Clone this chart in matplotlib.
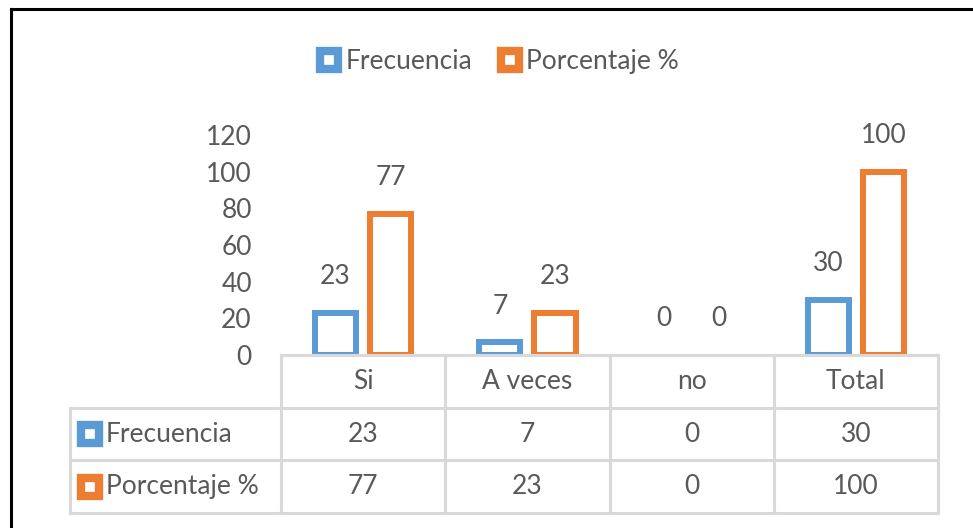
import numpy as np
import matplotlib
matplotlib.use('agg')
import matplotlib.pyplot as plt
from matplotlib.lines import Line2D

categories = ['Si', 'A veces', 'no', 'Total']
frecuencia = [23, 7, 0, 30]
porcentaje = [77, 23, 0, 100]
series_names = ['Frecuencia', 'Porcentaje %']
yticks = [0, 20, 40, 60, 80, 100, 120]

BLUE = '#5B9BD5'
ORANGE = '#ED7D31'
TEXT = '#595959'
GRID = '#D9D9D9'
FS = 19

plt.rcParams['font.family'] = ['Lato', 'DejaVu Sans']

W, H = 973, 528
fig = plt.figure(figsize=(W / 100, H / 100), dpi=100)


def px(x0, y0, x1, y1):
    # pixel box -> figure fraction rect
    return [x0 / W, 1 - y1 / H, (x1 - x0) / W, (y1 - y0) / H]


# bars
ax = fig.add_axes(px(281, 135, 938, 355))
x = np.arange(len(categories))
off = 0.168
bw = 0.25
lw = 4.3
series = [(frecuencia, BLUE, -off), (porcentaje, ORANGE, off)]
for vals, col, dx in series:
    ax.bar(x + dx, vals, bw, facecolor='white', edgecolor=col,
           linewidth=[lw if v > 0 else 0 for v in vals])
    for xi, v in zip(x, vals):
        ax.annotate(str(v), (xi + dx, v), xytext=(0, 26),
                    textcoords='offset points', ha='center', va='center',
                    fontsize=FS, color=TEXT)

ax.set_xlim(-0.5, len(categories) - 0.5)
ax.set_ylim(0, 120)
ax.set_yticks(yticks)
ax.set_xticks([])
ax.tick_params(axis='y', length=0, pad=21, labelcolor=TEXT, labelsize=FS)
for s in ax.spines.values():
    s.set_visible(False)

# data table
tax = fig.add_axes(px(70, 355, 938, 513))
left = -0.5 - (281 - 70) / 164.0
right = len(categories) - 0.5
tax.set_xlim(left, right)
tax.set_ylim(3, 0)
tax.axis('off')
lk = dict(color=GRID, lw=2.2, clip_on=False, solid_capstyle='projecting')
tax.plot([-0.5, right], [0, 0], **lk)
for r in (1, 2, 3):
    tax.plot([left, right], [r, r], **lk)
for c in np.arange(-0.5, right + 0.01, 1.0):
    tax.plot([c, c], [0, 3], **lk)
tax.plot([left, left], [1, 3], **lk)

for i, cat in enumerate(categories):
    tax.text(i, 0.5, cat, ha='center', va='center', fontsize=FS, color=TEXT)
rows = [(series_names[0], frecuencia, BLUE), (series_names[1], porcentaje, ORANGE)]
for r, (name, vals, col) in enumerate(rows, start=1):
    yc = r + 0.5
    tax.plot([left + 20 / 164.0], [yc], marker='s', markersize=13,
             markeredgewidth=6, markerfacecolor='white', markeredgecolor=col,
             clip_on=False)
    tax.text(left + 36 / 164.0, yc, name, ha='left', va='center',
             fontsize=FS, color=TEXT)
    for i, v in enumerate(vals):
        tax.text(i, yc, str(v), ha='center', va='center', fontsize=FS, color=TEXT)

# legend
handles = [Line2D([], [], marker='s', linestyle='none', markersize=13,
                  markeredgewidth=6, markerfacecolor='white', markeredgecolor=c)
           for c in (BLUE, ORANGE)]
fig.legend(handles, series_names, loc='center', bbox_to_anchor=(0.512, 0.883),
           ncol=2, frameon=False, fontsize=FS, labelcolor=TEXT,
           handlelength=0.9, handletextpad=0.15, columnspacing=1.0)

# outer frame (top and left edges visible)
fig.add_artist(Line2D([11 / W, 1], [1 - 9 / H, 1 - 9 / H], color='black', lw=2.2))
fig.add_artist(Line2D([11 / W, 11 / W], [0, 1 - 9 / H], color='black', lw=2.2))

fig.savefig('out.png', dpi=100)
